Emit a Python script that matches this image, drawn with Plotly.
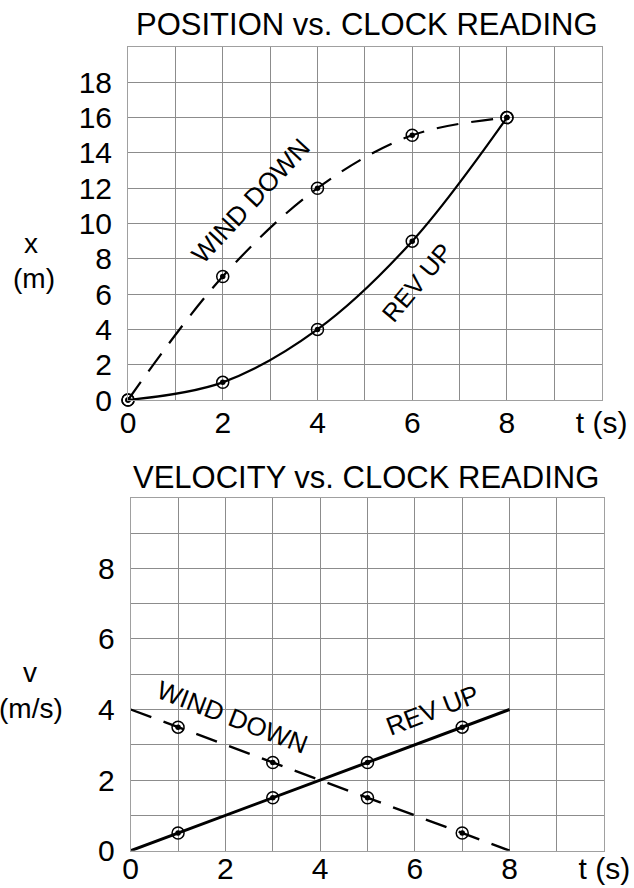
import plotly.graph_objects as go

W, H = 634, 888

# ---- data: position vs clock reading ----
t_pos = [0, 2, 4, 6, 8]
x_revup = [0, 1, 4, 9, 16]
x_winddown = [0, 7, 12, 15, 16]

# ---- data: velocity vs clock reading ----
t_vel_pts = [1, 3, 5, 7]
v_revup_pts = [0.5, 1.5, 2.5, 3.5]
v_winddown_pts = [3.5, 2.5, 1.5, 0.5]
t_line = [0, 8]
v_revup_line = [0, 4]
v_winddown_line = [4, 0]

x_ticks = [0, 1, 2, 3, 4, 5, 6, 7, 8, 9, 10]
x_ticktext = ["0", "", "2", "", "4", "", "6", "", "8", "", "t (s)"]
pos_yticks = [0, 2, 4, 6, 8, 10, 12, 14, 16, 18, 20]
pos_yticktext = ["0", "2", "4", "6", "8", "10", "12", "14", "16", "18", ""]
vel_yticks = [0, 1, 2, 3, 4, 5, 6, 7, 8, 9, 10]
vel_yticktext = ["0", "", "2", "", "4", "", "6", "", "8", "", ""]

FONT = "Liberation Sans, Arial, sans-serif"
NARROW = "Liberation Sans Narrow, Arial Narrow, Liberation Sans, sans-serif"
GRID = "#8c8c8c"
DASH = "22px,13px"


def px(x):
    return x / W


def py(y):
    return 1 - y / H


fig = go.Figure()


def markers(xs, ys, xa, ya):
    fig.add_trace(go.Scatter(x=xs, y=ys, xaxis=xa, yaxis=ya, mode="markers", cliponaxis=False,
                             marker=dict(symbol="circle-open", size=12, color="black",
                                         line=dict(width=1.5, color="black")),
                             hoverinfo="skip", showlegend=False))
    fig.add_trace(go.Scatter(x=xs, y=ys, xaxis=xa, yaxis=ya, mode="markers", cliponaxis=False,
                             marker=dict(symbol="circle", size=5.5, color="black"),
                             hoverinfo="skip", showlegend=False))


# top panel curves
fig.add_trace(go.Scatter(x=t_pos, y=x_winddown, xaxis="x", yaxis="y", mode="lines",
                         line=dict(color="black", width=2.2, dash=DASH, shape="spline", smoothing=1),
                         hoverinfo="skip", showlegend=False))
fig.add_trace(go.Scatter(x=t_pos, y=x_revup, xaxis="x", yaxis="y", mode="lines",
                         line=dict(color="black", width=2.2, shape="spline", smoothing=1),
                         hoverinfo="skip", showlegend=False))
markers(t_pos, x_winddown, "x", "y")
markers(t_pos, x_revup, "x", "y")

# bottom panel lines
fig.add_trace(go.Scatter(x=t_line, y=v_winddown_line, xaxis="x2", yaxis="y2", mode="lines",
                         line=dict(color="black", width=2.4, dash=DASH),
                         hoverinfo="skip", showlegend=False))
fig.add_trace(go.Scatter(x=t_line, y=v_revup_line, xaxis="x2", yaxis="y2", mode="lines",
                         line=dict(color="black", width=3),
                         hoverinfo="skip", showlegend=False))
markers(t_vel_pts, v_winddown_pts, "x2", "y2")
markers(t_vel_pts, v_revup_pts, "x2", "y2")

axis_common = dict(showgrid=True, gridcolor=GRID, gridwidth=1, zeroline=False,
                   showline=True, linecolor="#a0a0a0", linewidth=1, mirror=True,
                   ticks="", automargin=False, fixedrange=True,
                   tickfont=dict(family=FONT, size=30, color="black"))

fig.update_layout(
    width=W, height=H,
    margin=dict(l=0, r=0, t=0, b=0),
    paper_bgcolor="white", plot_bgcolor="white",
    showlegend=False,
    xaxis=dict(axis_common, domain=[px(128), px(601.7)], range=[0, 10],
               tickmode="array", tickvals=x_ticks, ticktext=x_ticktext,
               anchor="y", ticklabelstandoff=-4),
    yaxis=dict(axis_common, domain=[py(400), py(47)], range=[0, 20],
               tickmode="array", tickvals=pos_yticks, ticktext=pos_yticktext,
               anchor="x", ticklabelstandoff=9),
    xaxis2=dict(axis_common, domain=[px(130.7), px(604.3)], range=[0, 10],
                tickmode="array", tickvals=x_ticks, ticktext=x_ticktext,
                anchor="y2", ticklabelstandoff=-9),
    yaxis2=dict(axis_common, domain=[py(850.7), py(497.7)], range=[0, 10],
                tickmode="array", tickvals=vel_yticks, ticktext=vel_yticktext,
                anchor="x2", ticklabelstandoff=9),
)

ann = []
# titles
ann.append(dict(text="POSITION vs. CLOCK READING", x=px(367), y=py(25), xref="paper", yref="paper",
                showarrow=False, font=dict(family=FONT, size=31, color="black"),
                xanchor="center", yanchor="middle"))
ann.append(dict(text="VELOCITY vs. CLOCK READING", x=px(366), y=py(477), xref="paper", yref="paper",
                showarrow=False, font=dict(family=FONT, size=31, color="black"),
                xanchor="center", yanchor="middle"))
# axis labels
ann.append(dict(text="x", x=px(31), y=py(243), xref="paper", yref="paper", showarrow=False,
                font=dict(family=FONT, size=28, color="black"), xanchor="center", yanchor="middle"))
ann.append(dict(text="(m)", x=px(34), y=py(278), xref="paper", yref="paper", showarrow=False,
                font=dict(family=FONT, size=28, color="black"), xanchor="center", yanchor="middle"))
ann.append(dict(text="v", x=px(30), y=py(672), xref="paper", yref="paper", showarrow=False,
                font=dict(family=FONT, size=28, color="black"), xanchor="center", yanchor="middle"))
ann.append(dict(text="(m/s)", x=px(31), y=py(708), xref="paper", yref="paper", showarrow=False,
                font=dict(family=FONT, size=28, color="black"), xanchor="center", yanchor="middle"))
# curve labels
ann.append(dict(text="WIND DOWN", x=2.58, y=11.3, xref="x", yref="y", showarrow=False,
                textangle=-47, font=dict(family=NARROW, size=26, color="black")))
ann.append(dict(text="REV UP", x=6.1, y=6.7, xref="x", yref="y", showarrow=False,
                textangle=-50, font=dict(family=NARROW, size=25, color="black")))
ann.append(dict(text="WIND DOWN", x=2.14, y=3.79, xref="x2", yref="y2", showarrow=False,
                textangle=21, font=dict(family=NARROW, size=26, color="black")))
ann.append(dict(text="REV UP", x=6.38, y=3.99, xref="x2", yref="y2", showarrow=False,
                textangle=-21, font=dict(family=NARROW, size=26, color="black")))
fig.update_layout(annotations=ann)

fig.write_html("out.html", config={"displayModeBar": False},
               post_script="document.body.style.margin='0px';document.body.style.overflow='hidden';")
